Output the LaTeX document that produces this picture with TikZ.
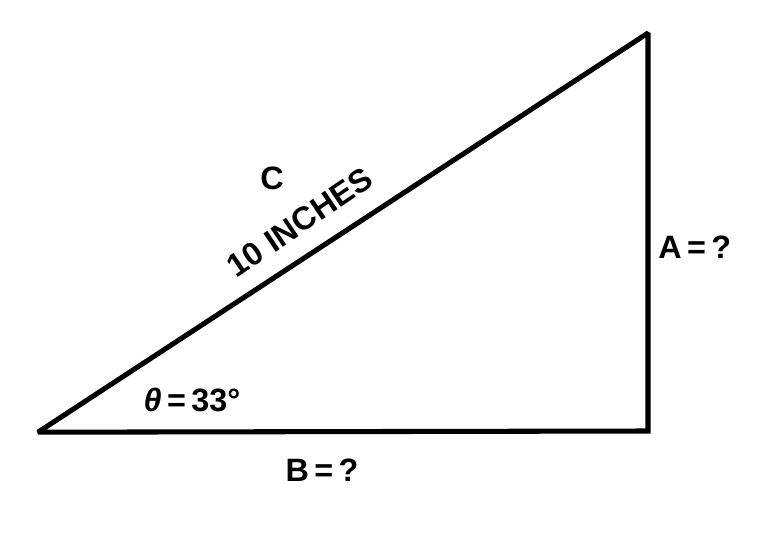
\documentclass[tikz,border=0pt]{standalone}
\usepackage{fontspec}
\setmainfont{Liberation Sans}
\usetikzlibrary{positioning}

\tikzset{
  side/.style={line width=3.6pt, line join=miter, miter limit=2, black},
  lettering/.style={font=\bfseries\fontsize{23}{28}\selectfont, inner sep=0pt}
}

\begin{document}
\begin{tikzpicture}
      \useasboundingbox (0,0) rectangle (19.6,13.725);

      % Corners of the triangle
      \coordinate (left) at (0.95, 2.92);
      \coordinate (right) at (16.2, 2.95);
      \coordinate (top) at (16.2, 12.9);

      % Draw the sides
      \draw[side] (left) -- (right) -- (top) -- cycle;

      % Labels
      \node[lettering] (hypname) at (6.8, 9.27) {C};
      \node[lettering, rotate=34] (hyplen) at (7.5, 8.17) {10 INCHES};
      \node[lettering] (sidea) at (17.37, 7.55) {A\,=\,?};
      \node[lettering] (sideb) at (8.05, 1.98) {B\,=\,?};
      \node[lettering] (angle) at (4.8, 3.73) {{\itshape θ}\,=\,33°};
\end{tikzpicture}
\end{document}
